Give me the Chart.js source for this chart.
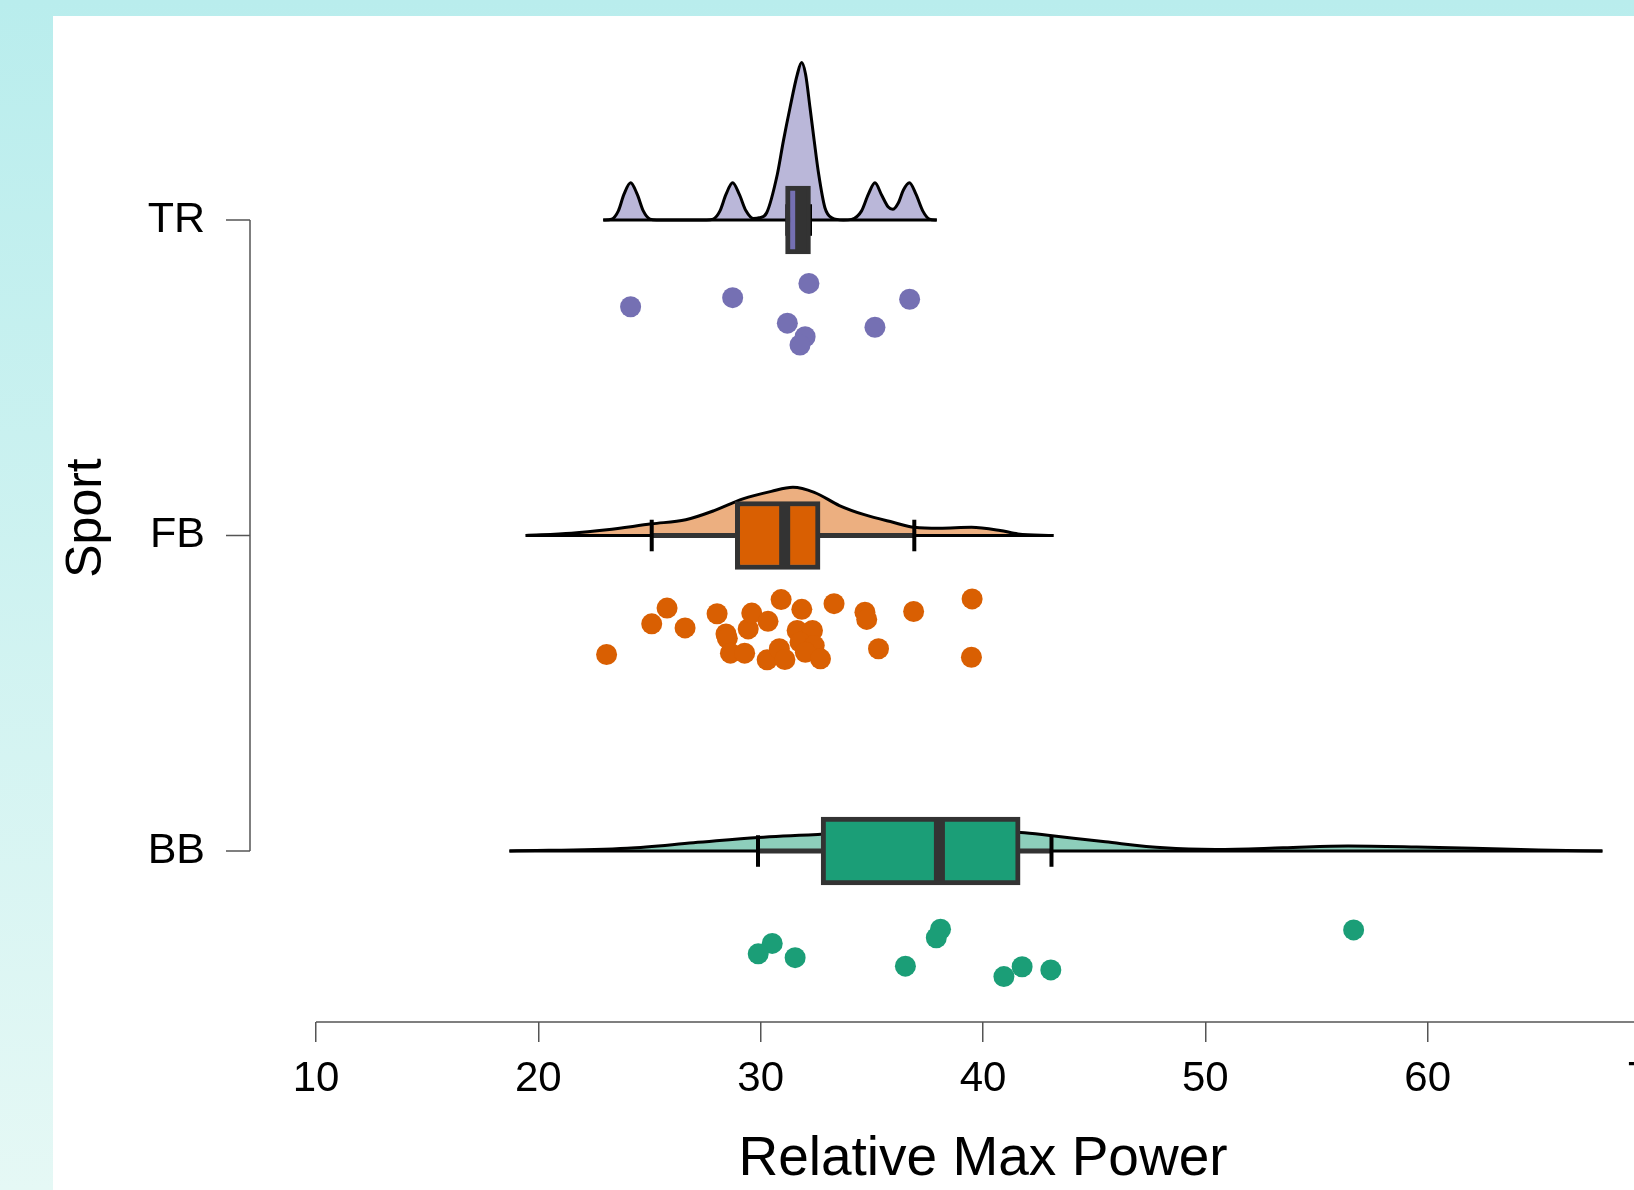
<!DOCTYPE html>
<html>
<head>
<meta charset="utf-8">
<script src="https://cdn.jsdelivr.net/npm/chart.js@4.4.1/dist/chart.umd.min.js"></script>
<style>
  html, body { margin: 0; padding: 0; }
  body {
    width: 1634px; height: 1190px; overflow: hidden; position: relative;
    background: linear-gradient(180deg, #b9eded 0%, #e5f8f5 100%);
  }
  #panel { position: absolute; left: 53px; top: 16px; right: 0; bottom: 0; background: #fff; }
  #chart { position: absolute; left: 0; top: 0; }
</style>
</head>
<body>
<div id="panel"></div>
<canvas id="chart" width="1700" height="1200"></canvas>
<script>
// categories, bottom to top (y = 1, 2, 3)
const sports = ['BB', 'FB', 'TR'];
const xTicks = [10, 20, 30, 40, 50, 60, 70];

// raw observations (Relative Max Power) and their vertical jitter below the baseline
const bbValues = [38.09, 37.90, 30.52, 29.89, 31.55, 36.51, 41.76, 43.05, 40.94, 56.67];
const bbJitter = [-0.248, -0.275, -0.293, -0.326, -0.338, -0.365, -0.367, -0.377, -0.398, -0.250];

const fbValues = [23.07, 25.10, 25.79, 26.60, 28.04, 28.44, 28.50, 28.64, 29.28, 29.44,
                  29.60, 30.33, 30.92, 30.29, 30.84, 31.09, 31.85, 31.64, 32.33, 31.77,
                  32.41, 32.01, 32.69, 33.30, 34.69, 34.77, 35.30, 36.88, 39.51, 39.48];
const fbJitter = [-0.377, -0.280, -0.230, -0.293, -0.248, -0.312, -0.326, -0.373, -0.373, -0.296,
                  -0.246, -0.272, -0.203, -0.394, -0.359, -0.393, -0.234, -0.301, -0.301, -0.338,
                  -0.349, -0.370, -0.391, -0.216, -0.243, -0.266, -0.359, -0.241, -0.201, -0.386];

const trValues = [24.15, 28.74, 32.17, 31.20, 32.00, 31.77, 35.14, 36.70];
const trJitter = [-0.275, -0.246, -0.201, -0.327, -0.370, -0.396, -0.340, -0.251];

// half-violin densities: [value, height above baseline]
const bbDensity = [[18.70, 0], [24.0, 0.009], [26.98, 0.026], [29.89, 0.043], [32.70, 0.053],
                   [35.5, 0.060], [38.0, 0.063], [41.69, 0.059], [43.11, 0.048], [45.50, 0.029],
                   [48.14, 0.010], [50.46, 0.005], [53.5, 0.010], [56.42, 0.016], [59.5, 0.013],
                   [62.05, 0.009], [65.0, 0.003], [67.86, 0]];
const fbDensity = [[19.43, 0], [21.49, 0.007], [23.09, 0.018], [25.10, 0.037], [26.63, 0.050],
                   [27.91, 0.079], [29.20, 0.116], [30.48, 0.140], [31.45, 0.153], [32.41, 0.137],
                   [33.54, 0.095], [34.66, 0.066], [35.95, 0.042], [36.91, 0.026], [38.04, 0.023],
                   [39.48, 0.026], [40.77, 0.016], [41.57, 0.005], [43.17, 0]];
const trDensity = [[22.92, 0], [23.30, 0.003], [23.60, 0.029], [23.85, 0.081], [24.15, 0.118],
                   [24.45, 0.081], [24.72, 0.029], [25.02, 0.003], [25.32, 0], [27.57, 0],
                   [27.87, 0.003], [28.17, 0.029], [28.44, 0.081], [28.74, 0.118], [29.04, 0.081],
                   [29.34, 0.029], [29.67, 0.005], [29.94, 0.007], [30.27, 0.023], [30.75, 0.145],
                   [31.02, 0.250], [31.32, 0.356], [31.65, 0.462], [31.84, 0.499], [32.02, 0.462],
                   [32.22, 0.356], [32.41, 0.250], [32.61, 0.145], [32.89, 0.039], [33.20, 0.007],
                   [33.72, 0], [34.09, 0.002], [34.54, 0.029], [34.84, 0.081], [35.14, 0.118],
                   [35.44, 0.079], [35.74, 0.041], [35.94, 0.034], [36.19, 0.054], [36.42, 0.095],
                   [36.69, 0.118], [36.99, 0.081], [37.29, 0.029], [37.59, 0.003], [37.92, 0]];

// box plot summaries, in category order
const boxQ1 = [32.72, 28.86, 31.12];
const boxQ3 = [41.67, 32.67, 32.24];
const boxMedian = [38.04, 31.08, 31.80];
const whiskerLow = [29.88, 25.10, 31.20];
const whiskerHigh = [43.08, 36.91, 32.22];

const values = [bbValues, fbValues, trValues];
const jitters = [bbJitter, fbJitter, trJitter];
const densities = [bbDensity, fbDensity, trDensity];

const pointColors = ['#1b9e77', '#d95f02', '#7570b3'];
const fillColors = ['rgba(27,158,119,0.5)', 'rgba(217,95,2,0.5)', 'rgba(117,112,179,0.5)'];
const family = "'Liberation Sans', Arial, sans-serif";
const boxHalf = 0.1;   // median line half length (axis units)
const capHalf = 0.05;  // whisker cap half length
const yAxisGap = 66;   // y axis line sits this far left of the plot area (px)
const yTickLen = 24;

const datasets = [];

// boxes
datasets.push({
    type: 'bar',
    indexAxis: 'y',
    data: sports.map((s, i) => ({ x: [boxQ1[i], boxQ3[i]], y: i + 1 })),
    backgroundColor: pointColors,
    borderColor: '#333333',
    borderWidth: 5,
    borderSkipped: false,
    barThickness: 68,
    order: 1
});

sports.forEach((s, i) => {
    const c = i + 1;
    const dens = densities[i];

    // median
    datasets.push({
        type: 'line',
        data: [{ x: boxMedian[i], y: c - boxHalf }, { x: boxMedian[i], y: c + boxHalf }],
        borderColor: '#333333', borderWidth: 11, pointRadius: 0, order: 0
    });
    // whisker caps
    [whiskerLow[i], whiskerHigh[i]].forEach(w => {
        datasets.push({
            type: 'line',
            data: [{ x: w, y: c - capHalf }, { x: w, y: c + capHalf }],
            borderColor: '#000', borderWidth: 4, pointRadius: 0, order: 2
        });
    });
    // whisker line
    datasets.push({
        type: 'line',
        data: [{ x: whiskerLow[i], y: c }, { x: whiskerHigh[i], y: c }],
        borderColor: '#333333', borderWidth: 5, pointRadius: 0, order: 3
    });
    // density baseline
    datasets.push({
        type: 'line',
        data: [{ x: dens[0][0], y: c }, { x: dens[dens.length - 1][0], y: c }],
        borderColor: '#000', borderWidth: 3, pointRadius: 0, order: 4
    });
    // density
    datasets.push({
        type: 'line',
        data: dens.map(d => ({ x: d[0], y: c + d[1] })),
        borderColor: '#000', borderWidth: 3, pointRadius: 0,
        backgroundColor: fillColors[i],
        fill: { value: c },
        cubicInterpolationMode: 'monotone',
        order: 5
    });
    // raw points
    datasets.push({
        type: 'scatter',
        data: values[i].map((v, k) => ({ x: v, y: c + jitters[i][k] })),
        backgroundColor: pointColors[i],
        borderWidth: 0,
        pointRadius: 10.5,
        pointHoverRadius: 10.5,
        order: 6
    });
});

// R-style range frame: axis lines and y tick marks
const axisLines = {
    id: 'axisLines',
    beforeDatasetsDraw(chart) {
        const { ctx, chartArea, scales: { x, y } } = chart;
        const ax = chartArea.left - yAxisGap;
        ctx.save();
        ctx.strokeStyle = '#555';
        ctx.lineWidth = 1.5;
        ctx.beginPath();
        ctx.moveTo(x.getPixelForValue(xTicks[0]), chartArea.bottom);
        ctx.lineTo(x.getPixelForValue(xTicks[xTicks.length - 1]), chartArea.bottom);
        ctx.moveTo(ax, y.getPixelForValue(1));
        ctx.lineTo(ax, y.getPixelForValue(sports.length));
        sports.forEach((s, i) => {
            const py = y.getPixelForValue(i + 1);
            ctx.moveTo(ax - yTickLen, py);
            ctx.lineTo(ax, py);
        });
        ctx.stroke();
        ctx.restore();
    }
};

new Chart(document.getElementById('chart').getContext('2d'), {
    type: 'scatter',
    data: { datasets: datasets },
    plugins: [axisLines],
    options: {
        responsive: false,
        animation: false,
        events: [],
        layout: { padding: { top: 14, right: 50, bottom: 0, left: 0 } },
        plugins: { legend: { display: false }, tooltip: { enabled: false } },
        scales: {
            x: {
                type: 'linear',
                min: 10,
                max: 70,
                bounds: 'data',
                offset: false,
                beginAtZero: false,
                afterBuildTicks: s => { s.ticks = xTicks.map(v => ({ value: v })); },
                afterFit: s => { s.height = 178; },
                border: { display: false },
                grid: { offset: false, drawOnChartArea: false, drawTicks: true, tickLength: 20, color: '#555', lineWidth: 1.5 },
                ticks: { font: { size: 42, family: family }, color: '#000', padding: 12, maxRotation: 0, autoSkip: false },
                title: {
                    display: true, text: 'Relative Max Power', color: '#000',
                    font: { size: 55, family: family }, padding: { top: 0, bottom: 7 }
                }
            },
            y: {
                type: 'linear',
                min: 0.458,
                max: 3.653,
                bounds: 'data',
                offset: false,
                afterBuildTicks: s => { s.ticks = sports.map((name, i) => ({ value: i + 1 })); },
                afterFit: s => { s.width = 316; s.paddingTop = 0; s.paddingBottom = 0; },
                border: { display: false },
                grid: { offset: false, drawOnChartArea: false, drawTicks: false },
                ticks: {
                    callback: v => sports[Math.round(v) - 1],
                    font: { size: 43, family: family }, color: '#000', padding: 111, autoSkip: false
                },
                title: {
                    display: true, text: 'Sport', color: '#000',
                    font: { size: 50, family: family }, padding: { top: 57, bottom: 0 }
                }
            }
        }
    }
});
</script>
</body>
</html>
